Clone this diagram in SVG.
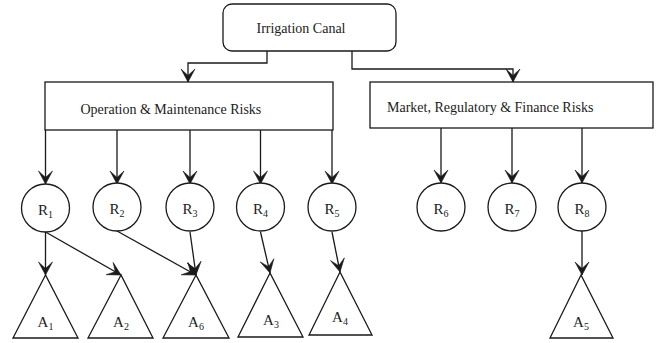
<svg xmlns="http://www.w3.org/2000/svg" width="661" height="343" viewBox="0 0 661 343">
<defs>
<style>
.s{fill:#fff;stroke:#1a1a1a;stroke-width:1.3}
.c{fill:none;stroke:#1a1a1a;stroke-width:1.3}
text{font-family:"Liberation Serif","Times New Roman",serif;fill:#222;font-size:14px}
.lb{font-size:15px;text-anchor:middle}
.sub{font-size:10px}
</style>
<marker id="ah" markerUnits="userSpaceOnUse" markerWidth="16" markerHeight="16" viewBox="-14 -8 16 16" refX="0" refY="0" orient="auto">
<path d="M0,0 L-13,-7 L-6.5,0 L-13,7 Z" fill="#1a1a1a" stroke="#1a1a1a" stroke-width="0.6" stroke-linejoin="round"/>
</marker>
</defs>
<rect width="661" height="343" fill="#fff"/>
<g id="connectors">
<path class="c" d="M267,51 V63 H188 V82" marker-end="url(#ah)"/>
<path class="c" d="M352,51 V69 H513 V82" marker-end="url(#ah)"/>
<path class="c" d="M45.5,130 V184" marker-end="url(#ah)"/>
<path class="c" d="M117,130 V184" marker-end="url(#ah)"/>
<path class="c" d="M190,130 V184" marker-end="url(#ah)"/>
<path class="c" d="M260.5,130 V184" marker-end="url(#ah)"/>
<path class="c" d="M332,130 V184" marker-end="url(#ah)"/>
<path class="c" d="M441,128 V183" marker-end="url(#ah)"/>
<path class="c" d="M512,128 V183" marker-end="url(#ah)"/>
<path class="c" d="M582,128 V183" marker-end="url(#ah)"/>
<path class="c" d="M45.5,232 V275" marker-end="url(#ah)"/>
<path class="c" d="M45.5,232 L121,275" marker-end="url(#ah)"/>
<path class="c" d="M117,231 L196,275" marker-end="url(#ah)"/>
<path class="c" d="M190,232 L196,275" marker-end="url(#ah)"/>
<path class="c" d="M260.5,232 L270,273" marker-end="url(#ah)"/>
<path class="c" d="M332,232 L340,272" marker-end="url(#ah)"/>
<path class="c" d="M582,230 V275" marker-end="url(#ah)"/>
</g>
<g id="canal"><rect class="s" x="223" y="4" width="173" height="47" rx="9"/><text x="301" y="33" text-anchor="middle">Irrigation Canal</text></g>
<g id="om"><rect class="s" x="45" y="82" width="288" height="48"/><text x="80.5" y="114">Operation &amp; Maintenance Risks</text></g>
<g id="mrf"><rect class="s" x="370" y="82" width="283" height="46"/><text x="387" y="111.5">Market, Regulatory &amp; Finance Risks</text></g>
<g id="R1"><circle class="s" cx="45.5" cy="208" r="24"/><text class="lb" x="45.5" y="215">R<tspan class="sub" dy="3">1</tspan></text></g>
<g id="R2"><circle class="s" cx="117" cy="207" r="24"/><text class="lb" x="117" y="214">R<tspan class="sub" dy="3">2</tspan></text></g>
<g id="R3"><circle class="s" cx="190" cy="207" r="24"/><text class="lb" x="190" y="214">R<tspan class="sub" dy="3">3</tspan></text></g>
<g id="R4"><circle class="s" cx="260.5" cy="207" r="24"/><text class="lb" x="260.5" y="214">R<tspan class="sub" dy="3">4</tspan></text></g>
<g id="R5"><circle class="s" cx="332" cy="207" r="24"/><text class="lb" x="332" y="214">R<tspan class="sub" dy="3">5</tspan></text></g>
<g id="R6"><circle class="s" cx="441" cy="207" r="24"/><text class="lb" x="441" y="214">R<tspan class="sub" dy="3">6</tspan></text></g>
<g id="R7"><circle class="s" cx="512" cy="207" r="24"/><text class="lb" x="512" y="214">R<tspan class="sub" dy="3">7</tspan></text></g>
<g id="R8"><circle class="s" cx="582" cy="207" r="24"/><text class="lb" x="582" y="214">R<tspan class="sub" dy="3">8</tspan></text></g>
<g id="A1"><path class="s" d="M45.5,275 L13,338 H78 Z"/><text class="lb" x="45.5" y="327">A<tspan class="sub" dy="3">1</tspan></text></g>
<g id="A2"><path class="s" d="M121,275 L88,338 H153 Z"/><text class="lb" x="121" y="327">A<tspan class="sub" dy="3">2</tspan></text></g>
<g id="A6"><path class="s" d="M196,275 L163,338 H229 Z"/><text class="lb" x="196" y="327">A<tspan class="sub" dy="3">6</tspan></text></g>
<g id="A3"><path class="s" d="M270,273 L238,337 H303 Z"/><text class="lb" x="271" y="325">A<tspan class="sub" dy="3">3</tspan></text></g>
<g id="A4"><path class="s" d="M340,272 L309,335 H372 Z"/><text class="lb" x="340" y="322">A<tspan class="sub" dy="3">4</tspan></text></g>
<g id="A5"><path class="s" d="M581,275 L550,338 H613 Z"/><text class="lb" x="581" y="327">A<tspan class="sub" dy="3">5</tspan></text></g>
</svg>
